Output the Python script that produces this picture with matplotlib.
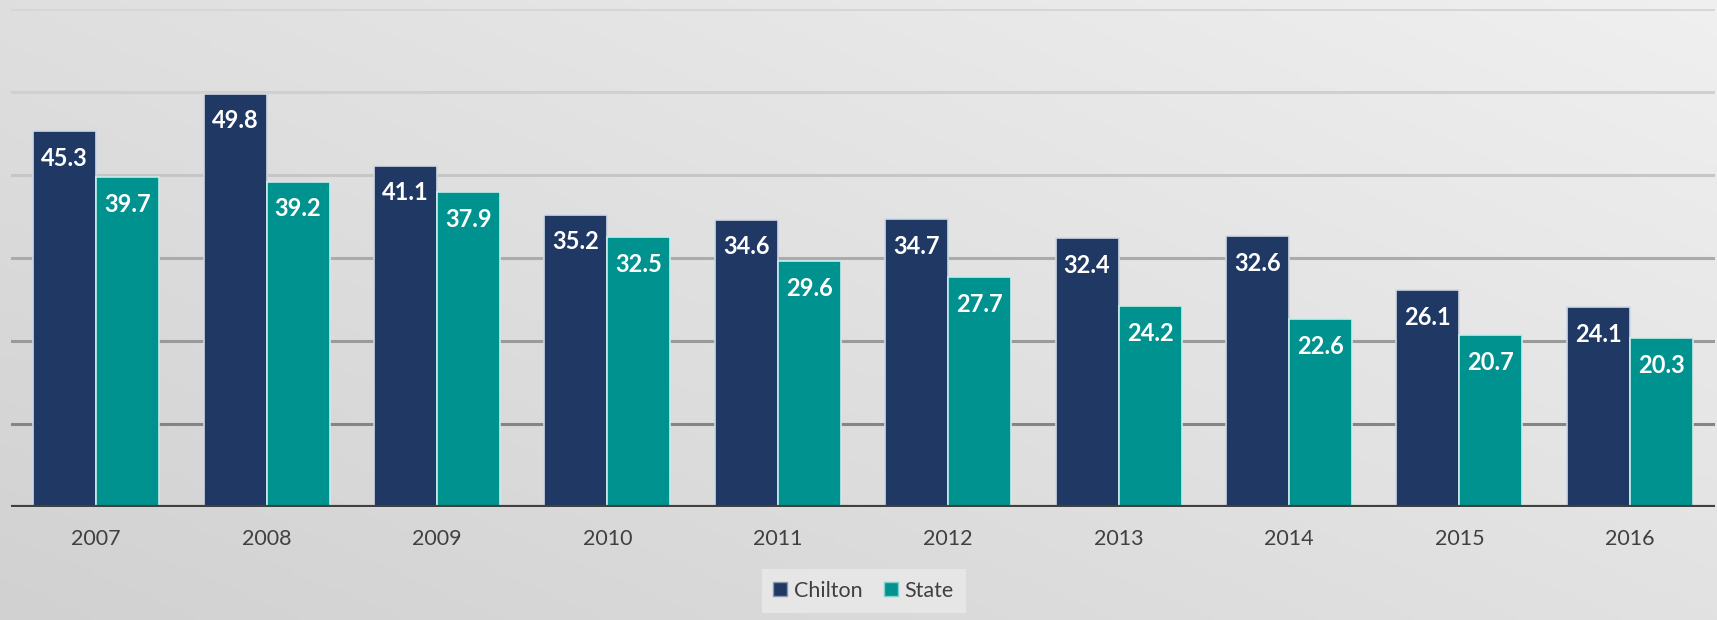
import numpy as np
import matplotlib.pyplot as plt
from matplotlib.patches import Patch

years = ['2007', '2008', '2009', '2010', '2011', '2012', '2013', '2014', '2015', '2016']
chilton = [45.3, 49.8, 41.1, 35.2, 34.6, 34.7, 32.4, 32.6, 26.1, 24.1]
state = [39.7, 39.2, 37.9, 32.5, 29.6, 27.7, 24.2, 22.6, 20.7, 20.3]

navy = '#1f3864'
teal = '#00928f'
txt = '#404040'

plt.rcParams['font.family'] = ['Lato', 'DejaVu Sans']

fig = plt.figure(figsize=(17.17, 6.2), dpi=100)

# background: light top-right, darker bottom-left
bg = fig.add_axes([0, 0, 1, 1])
gx, gy = np.meshgrid(np.linspace(0, 1, 300), np.linspace(0, 1, 120))
g = 0.82 + 0.12 * (0.55 * gx + 0.45 * gy)
bg.imshow(np.dstack([g, g, g]), aspect='auto', extent=[0, 1, 0, 1], origin='lower')
bg.axis('off')

ax = fig.add_axes([0.0064, 0.1823, 0.9924, 0.8032])
ax.patch.set_visible(False)

x = np.arange(len(years))
w = 0.37
grid_cols = {10: '#858585', 20: '#9a9a9a', 30: '#ababab', 40: '#c6c6c6', 50: '#d0d0d0', 60: '#d6d6d6'}
for v, c in grid_cols.items():
    ax.axhline(v, color=c, lw=2.2, zorder=1)

b1 = ax.bar(x - w / 2, chilton, w, color=navy, edgecolor='#d0d8e4', linewidth=1.2, zorder=2)
b2 = ax.bar(x + w / 2, state, w, color=teal, edgecolor='#c8ecea', linewidth=1.2, zorder=2)

for bars, vals in ((b1, chilton), (b2, state)):
    for r, v in zip(bars, vals):
        ax.annotate(f'{v}', (r.get_x() + r.get_width() / 2, v), xytext=(0, -19.5),
                    textcoords='offset points', ha='center', va='center',
                    color='white', fontsize=17, fontweight='bold', zorder=3)

ax.axhline(0, color='#404040', lw=3, zorder=4)

ax.set_xlim(-0.5, len(years) - 0.5)
ax.set_ylim(0, 60)
ax.set_xticks(x)
ax.set_xticklabels(years, fontsize=15.5, color=txt)
ax.tick_params(axis='x', length=0, pad=16)
ax.set_yticks([])
for s in ax.spines.values():
    s.set_visible(False)

handles = [Patch(facecolor=navy, edgecolor='#8a96b0', label='Chilton'),
           Patch(facecolor=teal, edgecolor='#7fcfcc', label='State')]
leg = fig.legend(handles=handles, loc='center', bbox_to_anchor=(0.503, 0.047),
                 ncol=2, fontsize=15.5, frameon=True, fancybox=False,
                 handlelength=0.65, handleheight=0.65, handletextpad=0.3,
                 columnspacing=1.0, borderpad=0.55)
leg.get_frame().set_facecolor('#e6e6e6')
leg.get_frame().set_edgecolor('none')
leg.get_frame().set_alpha(1)
for t in leg.get_texts():
    t.set_color(txt)

fig.savefig('out.png', dpi=100)
